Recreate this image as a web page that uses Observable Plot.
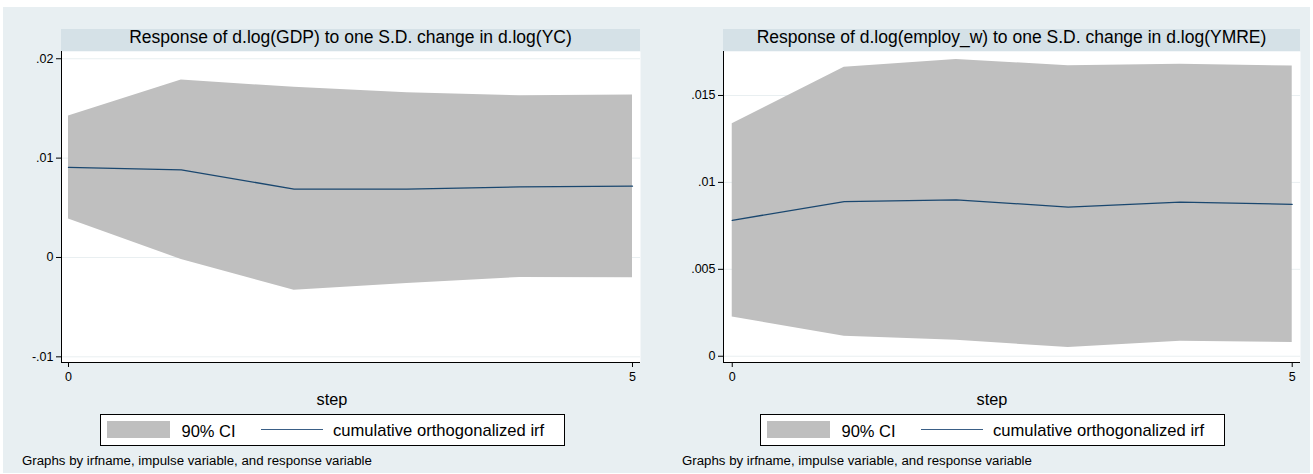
<!DOCTYPE html>
<html>
<head>
<meta charset="utf-8">
<script src="https://cdn.jsdelivr.net/npm/d3@7"></script>
<script src="https://cdn.jsdelivr.net/npm/@observablehq/plot@0.6"></script>
<style>
  html, body { margin: 0; padding: 0; background: #ffffff; }
  #root { position: relative; width: 1313px; height: 474px; overflow: hidden; font-family: "Liberation Sans", Arial, Helvetica, sans-serif; color: #000; }
  .abs { position: absolute; white-space: nowrap; line-height: 1; }
</style>
</head>
<body>
<div id="root"></div>
<script>
// ---------- data ----------
const steps = [0, 1, 2, 3, 4, 5];

const gdpIrf = [0.00906, 0.00882, 0.00688, 0.00688, 0.00711, 0.00718];
const gdpLo  = [0.00386, -0.00020, -0.00329, -0.00262, -0.00201, -0.00205];
const gdpHi  = [0.01423, 0.01786, 0.01712, 0.01658, 0.01627, 0.01634];

const empIrf = [0.00782, 0.00889, 0.00900, 0.00858, 0.00887, 0.00874];
const empLo  = [0.00226, 0.00115, 0.00092, 0.00050, 0.00086, 0.00079];
const empHi  = [0.01337, 0.01663, 0.01707, 0.01671, 0.01680, 0.01669];

const xTicks = [0, 5];
const xTickLabels = ["0", "5"];
const gdpYTicks = [-0.01, 0, 0.01, 0.02];
const gdpYTickLabels = ["-.01", "0", ".01", ".02"];
const empYTicks = [0, 0.005, 0.01, 0.015];
const empYTickLabels = ["0", ".005", ".01", ".015"];

const titles = [
  "Response of d.log(GDP) to one S.D. change in d.log(YC)",
  "Response of d.log(employ_w) to one S.D. change in d.log(YMRE)"
];
const xLabel = "step";
const legendLabels = ["90% CI", "cumulative orthogonalized irf"];
const caption = "Graphs by irfname, impulse variable, and response variable";

// ---------- styling ----------
const BG = "#e8eff2";
const STRIP = "#d5e1e7";
const CI = "#bfbfbf";
const NAVY = "#1a476f";
const GRID = "#e9eff1";
const FONT = "\"Liberation Sans\", Arial, Helvetica, sans-serif";

const root = document.getElementById("root");

function div(style, text) {
  const d = document.createElement("div");
  d.className = "abs";
  Object.assign(d.style, style);
  if (text != null) d.textContent = text;
  root.appendChild(d);
  return d;
}

// graph region background
div({left: "3px", top: "7px", width: "1307px", height: "466px", background: BG});

function panel(cfg) {
  const rows = steps.map((s, i) => ({step: s, irf: cfg.irf[i], lo: cfg.lo[i], hi: cfg.hi[i]}));
  const svgTop = 51;
  const plotH = 311;
  const chart = Plot.plot({
    width: cfg.svgW,
    height: plotH + 30,
    marginTop: 0,
    marginBottom: 30,
    marginLeft: cfg.plotL - cfg.svgL,
    marginRight: cfg.svgL + cfg.svgW - cfg.plotR,
    style: {background: "transparent", fontFamily: FONT, fontSize: "12.5px", color: "#000", overflow: "visible"},
    x: {type: "linear", domain: cfg.xDomain},
    y: {type: "linear", domain: cfg.yDomain},
    marks: [
      Plot.frame({fill: "white", stroke: "none"}),
      Plot.gridY(cfg.yTicks, {stroke: GRID, strokeOpacity: 1, strokeWidth: 1}),
      Plot.areaY(rows, {x: "step", y1: "lo", y2: "hi", fill: CI, fillOpacity: 1}),
      Plot.line(rows, {x: "step", y: "irf", stroke: NAVY, strokeWidth: 1.3}),
      Plot.ruleX([cfg.xDomain[0]], {stroke: "#000", strokeWidth: 1}),
      Plot.ruleY([cfg.yDomain[0]], {stroke: "#000", strokeWidth: 1}),
      Plot.axisY(cfg.yTicks, {
        tickSize: 5, tickPadding: 3, label: null, fontSize: 12.5,
        tickFormat: d => cfg.yTickLabels[cfg.yTicks.indexOf(d)]
      }),
      Plot.axisX(xTicks, {
        tickSize: 5, tickPadding: 5, label: null, fontSize: 12.5,
        tickFormat: d => xTickLabels[xTicks.indexOf(d)]
      })
    ]
  });
  chart.style.position = "absolute";
  chart.style.left = cfg.svgL + "px";
  chart.style.top = svgTop + "px";
  chart.style.maxWidth = "none";
  root.appendChild(chart);

  // title strip
  div({left: cfg.plotL + "px", top: "29px", width: (cfg.plotR - cfg.plotL) + "px", height: "22px", background: STRIP});
  div({left: cfg.plotL + "px", top: "28.9px", width: (cfg.plotR - cfg.plotL) + "px", textAlign: "center", fontSize: "17.5px"}, cfg.title);

  // x label
  div({left: (cfg.legL - 50) + "px", top: "390.5px", width: "564px", textAlign: "center", fontSize: "16.3px"}, xLabel);

  // legend
  const L = cfg.legL;
  div({left: L + "px", top: "414px", width: "465px", height: "32px", background: "#fff", border: "1px solid #000", boxSizing: "border-box"});
  div({left: (L + 7) + "px", top: "421px", width: "63px", height: "17px", background: CI});
  div({left: (L + 81.5) + "px", top: "422.8px", fontSize: "16.5px"}, legendLabels[0]);
  div({left: (L + 161) + "px", top: "429px", width: "62px", height: "1px", background: "#3a5f86"});
  div({left: (L + 233) + "px", top: "422.8px", fontSize: "16.6px"}, legendLabels[1]);

  // caption
  div({left: cfg.capL + "px", top: "453.5px", fontSize: "13.25px"}, caption);
}

panel({
  title: titles[0], irf: gdpIrf, lo: gdpLo, hi: gdpHi,
  yTicks: gdpYTicks, yTickLabels: gdpYTickLabels,
  yDomain: [-0.01057, 0.02073], xDomain: [-0.062, 5.071],
  svgL: 0, svgW: 656, plotL: 61, plotR: 640, legL: 100, capL: 22
});
panel({
  title: titles[1], irf: empIrf, lo: empLo, hi: empHi,
  yTicks: empYTicks, yTickLabels: empYTickLabels,
  yDomain: [-0.00036, 0.01753], xDomain: [-0.078, 5.074],
  svgL: 656, svgW: 657, plotL: 723, plotR: 1300, legL: 760, capL: 682
});
</script>
</body>
</html>
